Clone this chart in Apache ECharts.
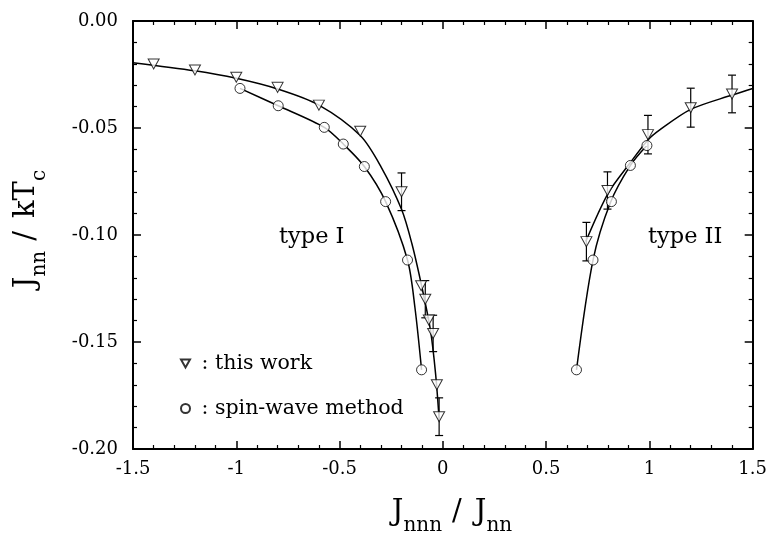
<!DOCTYPE html>
<html>
<head>
<meta charset="utf-8">
<script src="https://cdn.jsdelivr.net/npm/echarts@6/dist/echarts.min.js"></script>
<style>html,body{margin:0;padding:0;background:#fff}#c{width:770px;height:533px}</style>
</head>
<body>
<div id="c"></div>
<script>
// ---- Data ----
const xTicks = [-1.5, -1, -0.5, 0, 0.5, 1, 1.5];
const yTicks = [0.00, -0.05, -0.10, -0.15, -0.20];

// "this work" (triangles), type I region
const twI_x   = [-1.40, -1.20, -1.00, -0.80, -0.60, -0.40, -0.20, -0.105, -0.085, -0.068, -0.047, -0.029, -0.018];
const twI_y   = [-0.0201, -0.0229, -0.0263, -0.0310, -0.0393, -0.0515, -0.0798, -0.1237, -0.1300, -0.1397, -0.1460, -0.1700, -0.1849];
const twI_err = [0, 0, 0, 0, 0, 0, 0.0088, 0, 0.0087, 0, 0.0085, 0, 0.0088];
// "this work" (triangles), type II region
const twII_x   = [0.695, 0.797, 0.993, 1.20, 1.40];
const twII_y   = [-0.1031, -0.0792, -0.0531, -0.0405, -0.0341];
const twII_err = [0.0090, 0.0087, 0.0090, 0.0091, 0.0088];

// spin-wave method (circles)
const swI_x  = [-0.982, -0.797, -0.574, -0.482, -0.380, -0.277, -0.171, -0.103];
const swI_y  = [-0.0315, -0.0396, -0.0497, -0.0575, -0.0680, -0.0844, -0.1117, -0.1630];
const swII_x = [0.647, 0.727, 0.816, 0.908, 0.988];
const swII_y = [-0.1630, -0.1117, -0.0844, -0.0675, -0.0582];

// guide curves
const curveTwI_x = [-1.5, -1.2, -1.0, -0.8, -0.6, -0.4, -0.3, -0.2, -0.15, -0.1, -0.06, -0.035, -0.018];
const curveTwI_y = [-0.0195, -0.0233, -0.0268, -0.0318, -0.0393, -0.0535, -0.0680, -0.0880, -0.1040, -0.1250, -0.1445, -0.1650, -0.1860];
const curveSwI_x = [-0.982, -0.797, -0.574, -0.482, -0.380, -0.277, -0.171, -0.135, -0.103];
const curveSwI_y = [-0.0315, -0.0396, -0.0497, -0.0575, -0.0680, -0.0844, -0.1117, -0.1340, -0.1630];
const curveTwII_x = [0.692, 0.80, 0.905, 0.993, 1.05, 1.20, 1.40, 1.50];
const curveTwII_y = [-0.1030, -0.0805, -0.0665, -0.0556, -0.0509, -0.0413, -0.0346, -0.0315];
const curveSwII_x = [0.647, 0.727, 0.811, 0.908, 0.988];
const curveSwII_y = [-0.1630, -0.1117, -0.0849, -0.0675, -0.0582];

const zip = (a, b) => a.map((v, i) => [v, b[i]]);
const zip3 = (a, b, c) => a.map((v, i) => [v, b[i], c[i]]).filter(d => d[2] > 0);

const FONT = 'DejaVu Serif';
const TRI = 'path://M0,0L10,0L5,9Z';

const chart = echarts.init(document.getElementById('c'), null, {renderer: 'canvas'});

const axisCommon = {
  axisLine: {show: true, onZero: false, lineStyle: {color: '#000', width: 2}},
  axisTick: {show: true, inside: true, length: 8, lineStyle: {color: '#000', width: 1.5}},
  minorTick: {show: true, splitNumber: 5, length: 4, lineStyle: {color: '#000', width: 1.2}},
  splitLine: {show: false}
};

function errRender(params, api) {
  const x = api.value(0), y = api.value(1), e = api.value(2);
  const hi = api.coord([x, y + e]);
  const lo = api.coord([x, y - e]);
  const w = 4;
  const st = {stroke: '#000', lineWidth: 1.2};
  return {type: 'group', children: [
    {type: 'line', shape: {x1: hi[0], y1: hi[1], x2: lo[0], y2: lo[1]}, style: st},
    {type: 'line', shape: {x1: hi[0] - w, y1: hi[1], x2: hi[0] + w, y2: hi[1]}, style: st},
    {type: 'line', shape: {x1: lo[0] - w, y1: lo[1], x2: lo[0] + w, y2: lo[1]}, style: st}
  ]};
}

const lineStyleCurve = {color: '#000', width: 1.5};
function curve(xs, ys) {
  return {type: 'line', data: zip(xs, ys), showSymbol: false, symbol: 'none', smooth: 0.3,
    lineStyle: lineStyleCurve, silent: true, z: 2, animation: false, legendHoverLink: false};
}

const markerStyle = {color: '#fff', borderColor: '#000', borderWidth: 1};

const richTitle = {
  J: {fontFamily: FONT, fontSize: 29, lineHeight: 48, verticalAlign: 'middle', fill: '#000'},
  sl: {fontFamily: FONT, fontSize: 29, lineHeight: 48, verticalAlign: 'middle', fill: '#000', padding: [0, 13, 0, 10]},
  s: {fontFamily: FONT, fontSize: 20, lineHeight: 20, verticalAlign: 'bottom', fill: '#000'}
};

const option = {
  backgroundColor: '#fff',
  animation: false,
  textStyle: {fontFamily: FONT, color: '#000'},
  grid: {left: 133, right: 17, top: 21, bottom: 84, containLabel: false},
  xAxis: [
    Object.assign({}, axisCommon, {type: 'value', position: 'bottom', min: xTicks[0], max: xTicks[xTicks.length - 1], interval: 0.5,
      axisLabel: {show: true, margin: 11, fontFamily: FONT, fontSize: 18, color: '#000',
        formatter: v => { const t = xTicks.find(k => Math.abs(k - v) < 1e-9); return t === undefined ? '' : String(t); }}}),
    Object.assign({}, axisCommon, {type: 'value', position: 'top', min: xTicks[0], max: xTicks[xTicks.length - 1], interval: 0.5,
      axisLabel: {show: false}})
  ],
  yAxis: [
    Object.assign({}, axisCommon, {type: 'value', position: 'left', min: yTicks[yTicks.length - 1], max: yTicks[0], interval: 0.05,
      axisLabel: {show: true, margin: 15, fontFamily: FONT, fontSize: 18, color: '#000', formatter: v => v.toFixed(2)}}),
    Object.assign({}, axisCommon, {type: 'value', position: 'right', min: yTicks[yTicks.length - 1], max: yTicks[0], interval: 0.05,
      axisLabel: {show: false}})
  ],
  legend: {
    show: true, orient: 'vertical', left: 175, top: 348,
    itemWidth: 9, itemHeight: 9, itemGap: 24,
    data: [{name: 'this work', icon: TRI}, {name: 'spin-wave method', icon: 'circle'}],
    formatter: n => ' : ' + n,
    textStyle: {fontFamily: FONT, fontSize: 20.5, color: '#000'},
    selectedMode: false
  },
  series: [
    curve(curveTwI_x, curveTwI_y),
    curve(curveSwI_x, curveSwI_y),
    curve(curveTwII_x, curveTwII_y),
    curve(curveSwII_x, curveSwII_y),
    {type: 'custom', name: 'err', renderItem: errRender, encode: {x: 0, y: 1},
      data: zip3(twI_x, twI_y, twI_err).concat(zip3(twII_x, twII_y, twII_err)), z: 3, silent: true},
    {type: 'scatter', name: 'this work', symbol: TRI, symbolSize: [11, 10],
      data: zip(twI_x, twI_y).concat(zip(twII_x, twII_y)), itemStyle: markerStyle, z: 5},
    {type: 'scatter', name: 'spin-wave method', symbol: 'circle', symbolSize: 10,
      data: zip(swI_x, swI_y).concat(zip(swII_x, swII_y)), itemStyle: markerStyle, z: 5}
  ],
  graphic: [
    {type: 'text', left: 279, top: 226, style: {text: 'type I', font: '22.5px "DejaVu Serif"', fill: '#000'}},
    {type: 'text', left: 648, top: 226, style: {text: 'type II', font: '22.5px "DejaVu Serif"', fill: '#000'}},
    {type: 'text', x: 452, y: 512, style: {
      text: '{J|J}{s|nnn}{sl|/}{J|J}{s|nn}', align: 'center', verticalAlign: 'middle', rich: richTitle}},
    {type: 'text', x: 26, y: 229, rotation: Math.PI / 2, style: {
      text: '{J|J}{s|nn}{sl|/}{J|kT}{s|c}', align: 'center', verticalAlign: 'middle', rich: richTitle}}
  ]
};
chart.setOption(option);
</script>
</body>
</html>
